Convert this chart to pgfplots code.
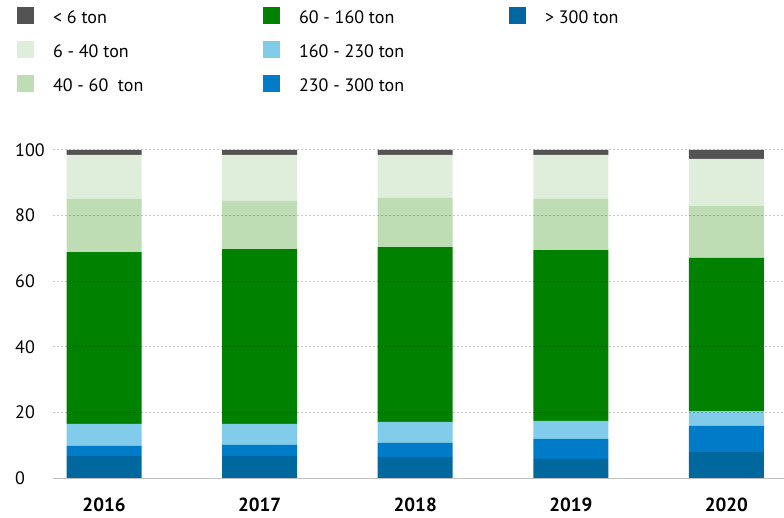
\documentclass[border=0pt]{standalone}
\usepackage{fontspec}
\setmainfont{PT Sans}
\usepackage{pgfplots}
\pgfplotsset{compat=1.18}
\definecolor{cA}{HTML}{535353}
\definecolor{cB}{HTML}{DFEEDB}
\definecolor{cC}{HTML}{BFDDB4}
\definecolor{cD}{HTML}{008200}
\definecolor{cE}{HTML}{80CCEA}
\definecolor{cF}{HTML}{007BC7}
\definecolor{cG}{HTML}{00679F}
\newcommand{\lent}[1]{\makebox[210bp][l]{\raisebox{-2bp}{\strut #1}}}
\begin{document}
\begin{tikzpicture}[x=1bp,y=1bp]
\useasboundingbox (-53bp,-40bp) rectangle (731bp,478bp);
\begin{axis}[
  at={(0,0)}, anchor=south west,
  scale only axis, width=731bp, height=328bp,
  xmin=-0.328, xmax=4.37, ymin=0, ymax=100,
  ybar stacked, bar width=75bp,
  axis on top,
  separate axis lines,
  axis x line*=bottom,
  axis y line*=left,
  y axis line style={draw=none},
  x axis line style={draw=black!25, line width=1bp},
  ytick={0,20,40,60,80,100},
  xtick={0,1,2,3,4},
  xticklabels={2016,2017,2018,2019,2020},
  tick style={draw=none},
  major tick length=0pt,
  ymajorgrids,
  grid style={black, opacity=0.22, line width=1bp, dash pattern=on 2bp off 2bp},
  /pgf/number format/assume math mode=true,
  ticklabel style={font=\fontsize{18bp}{22bp}\selectfont},
  yticklabel style={anchor=west, inner sep=0pt, xshift=-38bp},
  xticklabel style={font=\fontsize{19bp}{22bp}\selectfont\bfseries, anchor=north, inner sep=0pt, yshift=-20bp},
  legend cell align=left,
  legend image code/.code={\fill[#1] (0bp,-8.5bp) rectangle (17bp,8.5bp);},
  legend columns=3,
  legend style={at={(axis description cs:-0.0492,1.4345)}, anchor=north west,
    draw=none, fill=none, inner sep=0pt, outer sep=0pt,
    font=\fontsize{18bp}{22bp}\selectfont,
    nodes={inner sep=0pt},
    row sep=17bp,
    /tikz/every odd column/.append style={column sep=19bp}},
]
\addlegendimage{fill=cA, draw=none}\addlegendentry{\lent{< 6 ton}}
\addlegendimage{fill=cD, draw=none}\addlegendentry{\lent{60 - 160 ton}}
\addlegendimage{fill=cG, draw=none}\addlegendentry{\lent{> 300 ton}}
\addlegendimage{fill=cB, draw=none}\addlegendentry{\lent{6 - 40 ton}}
\addlegendimage{fill=cE, draw=none}\addlegendentry{\lent{160 - 230 ton}}
\addlegendimage{empty legend}\addlegendentry{}
\addlegendimage{fill=cC, draw=none}\addlegendentry{\lent{40 - 60\ \ ton}}
\addlegendimage{fill=cF, draw=none}\addlegendentry{\lent{230 - 300 ton}}
% stacked from bottom
\addplot+[fill=cG, draw=none, forget plot] coordinates {(0,6.7) (1,6.7) (2,6.4) (3,5.8) (4,7.9)};
\addplot+[fill=cF, draw=none, forget plot] coordinates {(0,3.1) (1,3.4) (2,4.3) (3,6.1) (4,8.0)};
\addplot+[fill=cE, draw=none, forget plot] coordinates {(0,6.7) (1,6.4) (2,6.4) (3,5.5) (4,4.5)};
\addplot+[fill=cD, draw=none, forget plot] coordinates {(0,52.4) (1,53.3) (2,53.3) (3,52.1) (4,46.7)};
\addplot+[fill=cC, draw=none, forget plot] coordinates {(0,16.2) (1,14.7) (2,15.0) (3,15.6) (4,15.8)};
\addplot+[fill=cB, draw=none, forget plot] coordinates {(0,13.4) (1,14.0) (2,13.1) (3,13.4) (4,14.4)};
\addplot+[fill=cA, draw=none, forget plot] coordinates {(0,1.5) (1,1.5) (2,1.5) (3,1.5) (4,2.7)};
\end{axis}
\end{tikzpicture}
\end{document}
